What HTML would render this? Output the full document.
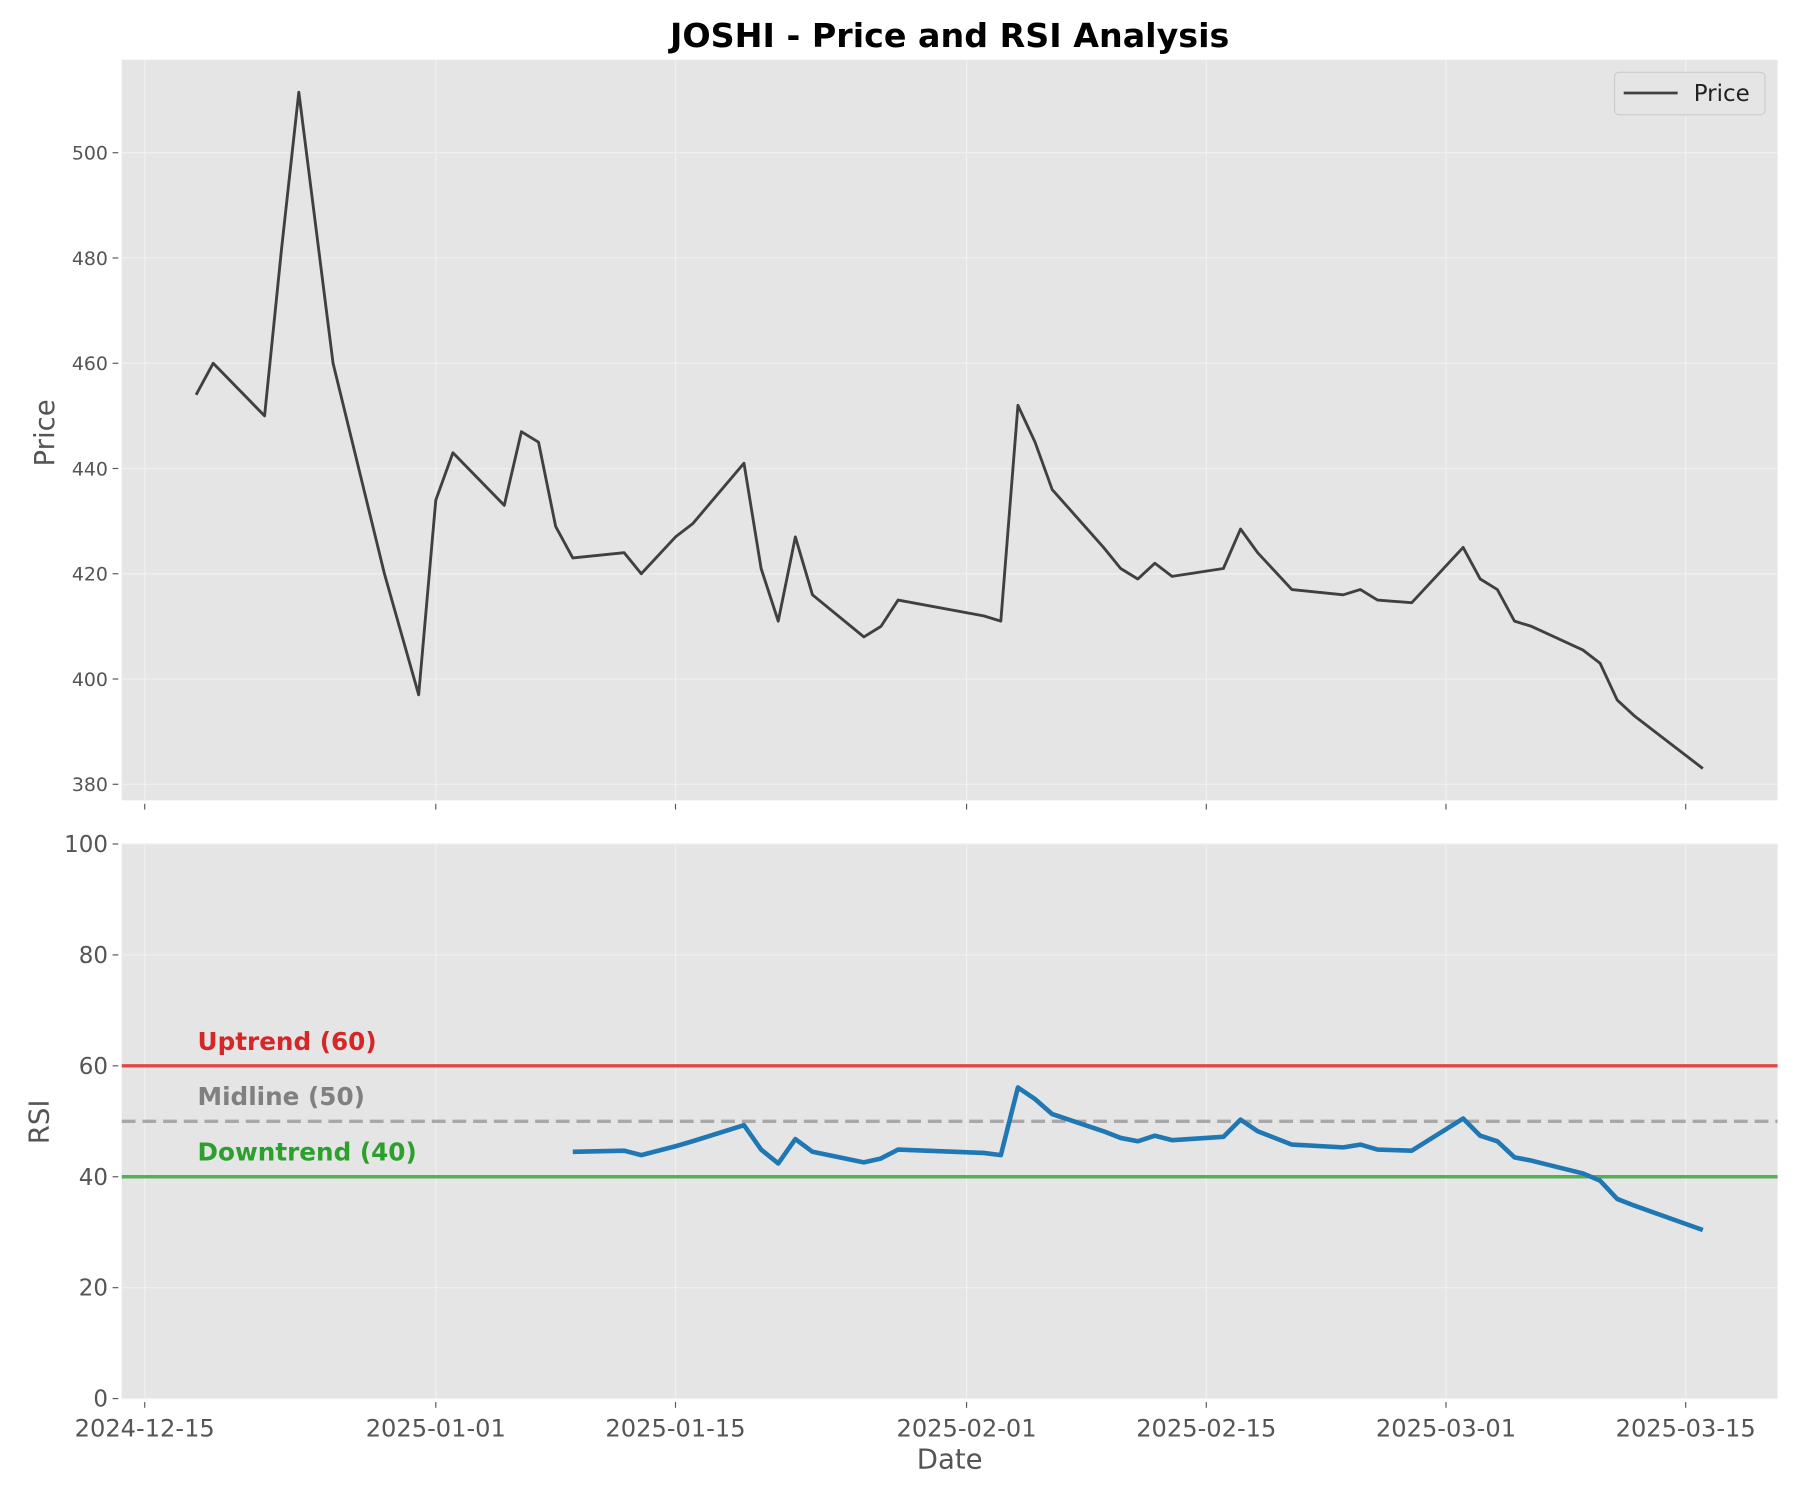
<!DOCTYPE html>
<html><head><meta charset="utf-8"><style>html,body{margin:0;padding:0;background:#fff}svg{display:block}text{font-family:"DejaVu Sans","Liberation Sans",sans-serif}</style></head>
<body>
<svg id="chart" width="1800" height="1500" viewBox="0 0 1567.5 1306.3" xmlns="http://www.w3.org/2000/svg">
<text x="827" y="41" text-anchor="middle" font-size="29" font-weight="bold" fill="#000">JOSHI - Price and RSI Analysis</text>
<rect x="106" y="52" width="1442" height="645" fill="#e5e5e5"/>
<rect x="106" y="735" width="1442" height="483" fill="#e5e5e5"/>
<g id="grid"></g>
<g id="marks"></g>
<g id="axes"></g>
<text transform="translate(47,377) rotate(-90)" text-anchor="middle" font-size="24" fill="#555">Price</text>
<text transform="translate(42,977) rotate(-90)" text-anchor="middle" font-size="24" fill="#555">RSI</text>
<text x="827" y="1279" text-anchor="middle" font-size="24" fill="#555">Date</text>
<g>
<rect x="1406" y="63" width="131" height="37" rx="4" fill="#e5e5e5" stroke="#cccccc"/>
<line x1="1414" y1="81" x2="1461" y2="81" stroke="#404040" stroke-width="2.4"/>
<text x="1475" y="88" font-size="20" fill="#222">Price</text>
</g>
</svg>
<script>
const dates = ["2024-12-18","2024-12-19","2024-12-22","2024-12-23","2024-12-24","2024-12-26","2024-12-29","2024-12-31","2025-01-01","2025-01-02","2025-01-05","2025-01-06","2025-01-07","2025-01-08","2025-01-09","2025-01-12","2025-01-13","2025-01-15","2025-01-16","2025-01-19","2025-01-20","2025-01-21","2025-01-22","2025-01-23","2025-01-26","2025-01-27","2025-01-28","2025-02-02","2025-02-03","2025-02-04","2025-02-05","2025-02-06","2025-02-09","2025-02-10","2025-02-11","2025-02-12","2025-02-13","2025-02-16","2025-02-17","2025-02-18","2025-02-20","2025-02-23","2025-02-24","2025-02-25","2025-02-27","2025-03-02","2025-03-03","2025-03-04","2025-03-05","2025-03-06","2025-03-09","2025-03-10","2025-03-11","2025-03-12","2025-03-16"];
const prices = [454,460,450,482,511.5,460,420,397,434,443,433,447,445,429,423,424,420,427,429.5,441,421,411,427,416,408,410,415,412,411,452,445,436,425,421,419,422,419.5,421,428.5,424,417,416,417,415,414.5,425,419,417,411,410,405.5,403,396,393,383];
const rsi = [null,null,null,null,null,null,null,null,null,null,null,null,null,null,44.5,44.7,43.9,45.5,46.4,49.3,44.9,42.4,46.8,44.5,42.6,43.3,44.9,44.3,43.9,56.1,54.0,51.3,48.2,47.0,46.4,47.4,46.6,47.2,50.3,48.2,45.8,45.3,45.8,44.9,44.7,50.5,47.4,46.4,43.5,42.9,40.6,39.3,36.0,34.8,30.4];
const xTickLabels = ["2024-12-15","2025-01-01","2025-01-15","2025-02-01","2025-02-15","2025-03-01","2025-03-15"];
const priceTicks = [380,400,420,440,460,480,500];
const rsiTicks = [0,20,40,60,80,100];
const refLevels = [60,50,40];
const refLabels = ["Uptrend (60)","Midline (50)","Downtrend (40)"];

const NS="http://www.w3.org/2000/svg";
const t0=Date.parse("2024-12-15");
const xs=d=>126+(Date.parse(d)-t0)/86400000*14.911;
const yP=v=>683-(v-380)*4.5833;
const yR=v=>1218-v*4.83;
function mk(tag,attrs,parent,text){const e=document.createElementNS(NS,tag);for(const k in attrs)e.setAttribute(k,attrs[k]);if(text!==undefined)e.textContent=text;document.getElementById(parent).appendChild(e);return e;}

xTickLabels.forEach(d=>{const x=xs(d);
 let g=mk('line',{x1:x,x2:x,y1:52,y2:697,stroke:'#f0f0f0','stroke-width':1},'grid');
 
 
 g=mk('line',{x1:x,x2:x,y1:735,y2:1218,stroke:'#f0f0f0','stroke-width':1},'grid');
 
 
 mk('line',{x1:x,x2:x,y1:700,y2:705,stroke:'#555'},'axes');
 mk('line',{x1:x,x2:x,y1:1221,y2:1226,stroke:'#555'},'axes');
 const t=mk('text',{x:x,y:1251,'text-anchor':'middle','font-size':21,fill:'#555'},'axes',d);
 
 
});
priceTicks.forEach(v=>{const y=yP(v);
 const g=mk('line',{x1:106,x2:1548,y1:y,y2:y,stroke:'#f0f0f0','stroke-width':1},'grid');
 
 
 mk('line',{x1:98,x2:103,y1:y,y2:y,stroke:'#555'},'axes');
 const t=mk('text',{x:94,y:y+6,'text-anchor':'end','font-size':16.5,fill:'#555'},'axes',v);
 
 
});
rsiTicks.forEach(v=>{const y=yR(v);
 const g=mk('line',{x1:106,x2:1548,y1:y,y2:y,stroke:'#f0f0f0','stroke-width':1},'grid');
 
 
 mk('line',{x1:98,x2:103,y1:y,y2:y,stroke:'#555'},'axes');
 const t=mk('text',{x:94,y:y+7,'text-anchor':'end','font-size':20,fill:'#555'},'axes',v);
 
 
});
const refColors=['#d62728','#aaaaaa','#2ca02c'];
const refStroke=['#e04848','#a8a8a8','#55b055'];
refLevels.forEach((v,i)=>{const y=yR(v);
 const l=mk('line',{x1:106,x2:1548,y1:y,y2:y,stroke:refStroke[i],'stroke-width':3,'stroke-dasharray':i===1?'12,6':'none'},'marks');
 
 
 const t=mk('text',{x:172,y:y-14,'font-size':21.5,'font-weight':'bold',fill:i===1?'#808080':refColors[i]},'marks',refLabels[i]);
 
 
});
const pp=mk('polyline',{points:dates.map((d,i)=>xs(d)+','+yP(prices[i])).join(' '),fill:'none',stroke:'#404040','stroke-width':2.5,'stroke-linejoin':'round'},'marks');


const rp=mk('polyline',{points:dates.map((d,i)=>rsi[i]==null?null:xs(d)+','+yR(rsi[i])).filter(s=>s).join(' '),fill:'none',stroke:'#1f77b4','stroke-width':4,'stroke-linejoin':'round'},'marks');


</script>
</body></html>
